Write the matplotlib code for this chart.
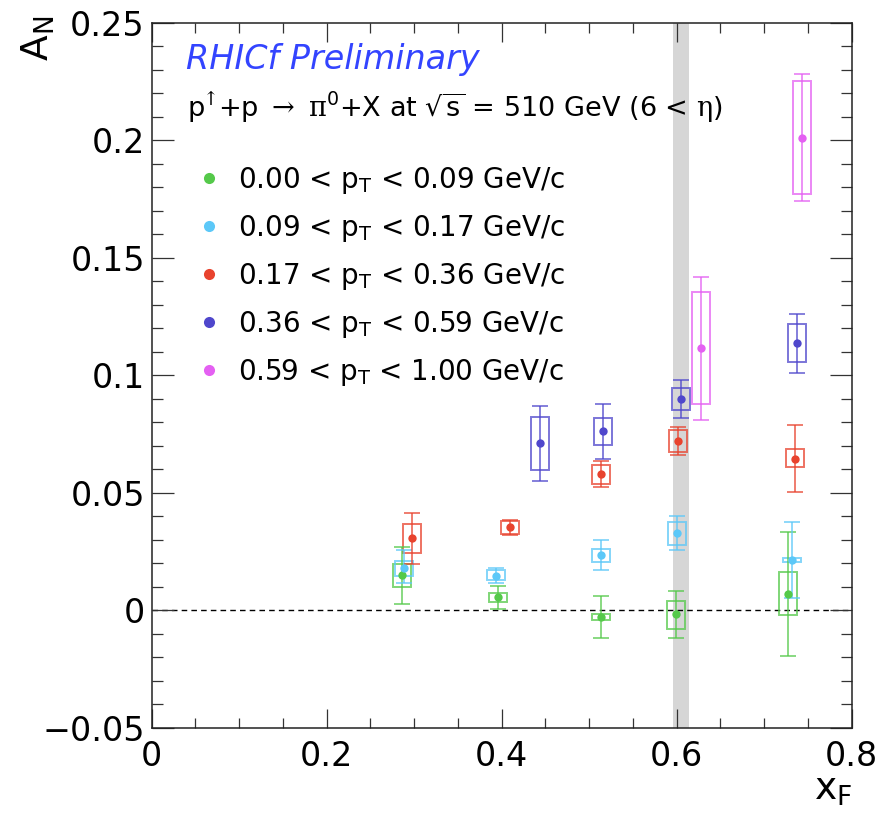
import matplotlib
matplotlib.use('Agg')
import matplotlib.pyplot as plt
from matplotlib.patches import Rectangle
from matplotlib.lines import Line2D
from matplotlib.ticker import FixedLocator, FixedFormatter, MultipleLocator

plt.rcParams['font.family'] = ['DejaVu Sans']
plt.rcParams['mathtext.fontset'] = 'dejavusans'

# ---------------- data ----------------
bin_labels = [
    r'0.00 < p$_{\mathrm{T}}$ < 0.09 GeV/c',
    r'0.09 < p$_{\mathrm{T}}$ < 0.17 GeV/c',
    r'0.17 < p$_{\mathrm{T}}$ < 0.36 GeV/c',
    r'0.36 < p$_{\mathrm{T}}$ < 0.59 GeV/c',
    r'0.59 < p$_{\mathrm{T}}$ < 1.00 GeV/c',
]
bin_colors = ['#55c94a', '#5cc8f8', '#e8432e', '#4f47cc', '#e460f2']

# bin 1: 0.00 < pT < 0.09
xf_b1 = [0.286, 0.396, 0.513, 0.599, 0.727]
an_b1 = [0.0149, 0.0055, -0.0028, -0.0018, 0.0069]
stat_lo_b1 = [0.0026, 0.0004, -0.0118, -0.0118, -0.0194]
stat_hi_b1 = [0.0269, 0.0105, 0.0060, 0.0082, 0.0333]
sys_lo_b1 = [0.0099, 0.0034, -0.0040, -0.0078, -0.0021]
sys_hi_b1 = [0.0196, 0.0074, -0.0018, 0.0040, 0.0161]

# bin 2: 0.09 < pT < 0.17
xf_b2 = [0.288, 0.393, 0.513, 0.600, 0.732]
an_b2 = [0.0180, 0.0147, 0.0237, 0.0327, 0.0214]
stat_lo_b2 = [0.0116, 0.0116, 0.0171, 0.0258, 0.0051]
stat_hi_b2 = [0.0255, 0.0181, 0.0298, 0.0400, 0.0374]
sys_lo_b2 = [0.0145, 0.0128, 0.0207, 0.0279, 0.0203]
sys_hi_b2 = [0.0210, 0.0169, 0.0262, 0.0376, 0.0224]

# bin 3: 0.17 < pT < 0.36
xf_b3 = [0.298, 0.410, 0.513, 0.602, 0.735]
an_b3 = [0.0307, 0.0354, 0.0580, 0.0718, 0.0645]
stat_lo_b3 = [0.0198, 0.0320, 0.0526, 0.0659, 0.0505]
stat_hi_b3 = [0.0415, 0.0383, 0.0635, 0.0779, 0.0786]
sys_lo_b3 = [0.0245, 0.0325, 0.0537, 0.0672, 0.0608]
sys_hi_b3 = [0.0366, 0.0380, 0.0620, 0.0768, 0.0684]

# bin 4: 0.36 < pT < 0.59
xf_b4 = [0.444, 0.516, 0.605, 0.737]
an_b4 = [0.0711, 0.0761, 0.0900, 0.1136]
stat_lo_b4 = [0.0550, 0.0642, 0.0820, 0.1010]
stat_hi_b4 = [0.0871, 0.0877, 0.0978, 0.1262]
sys_lo_b4 = [0.0598, 0.0703, 0.0851, 0.1055]
sys_hi_b4 = [0.0822, 0.0819, 0.0947, 0.1216]

# bin 5: 0.59 < pT < 1.00
xf_b5 = [0.628, 0.743]
an_b5 = [0.1114, 0.2009]
stat_lo_b5 = [0.0810, 0.1740]
stat_hi_b5 = [0.1417, 0.2281]
sys_lo_b5 = [0.0876, 0.1771]
sys_hi_b5 = [0.1353, 0.2250]

# shaded xF region
band_xf = [0.596, 0.614]

x_ticks = [0.0, 0.2, 0.4, 0.6, 0.8]
x_tick_labels = ['0', '0.2', '0.4', '0.6', '0.8']
y_ticks = [-0.05, 0.0, 0.05, 0.1, 0.15, 0.2, 0.25]
y_tick_labels = ['\u22120.05', '0', '0.05', '0.1', '0.15', '0.2', '0.25']

series = [
    (xf_b1, an_b1, stat_lo_b1, stat_hi_b1, sys_lo_b1, sys_hi_b1),
    (xf_b2, an_b2, stat_lo_b2, stat_hi_b2, sys_lo_b2, sys_hi_b2),
    (xf_b3, an_b3, stat_lo_b3, stat_hi_b3, sys_lo_b3, sys_hi_b3),
    (xf_b4, an_b4, stat_lo_b4, stat_hi_b4, sys_lo_b4, sys_hi_b4),
    (xf_b5, an_b5, stat_lo_b5, stat_hi_b5, sys_lo_b5, sys_hi_b5),
]

# ---------------- figure ----------------
W, H = 880, 813
fig = plt.figure(figsize=(W / 100, H / 100), dpi=100)
ax_l, ax_r, ax_t, ax_b = 151.7, 851.7, 22.7, 727.7
ax = fig.add_axes([ax_l / W, 1 - ax_b / H, (ax_r - ax_l) / W, (ax_b - ax_t) / H])
ax.set_xlim(0, 0.8)
ax.set_ylim(-0.05, 0.25)

ax.axvspan(band_xf[0], band_xf[1], color='#d6d6d6', lw=0, zorder=0)
ax.axhline(0, color='black', ls=(0, (4, 3)), lw=1.0, zorder=1)

box_half = 0.0103
for (xs, ys, slo, shi, blo, bhi), col in zip(series, bin_colors):
    for xv, lo, hi in zip(xs, blo, bhi):
        ax.add_patch(Rectangle((xv - box_half, lo), 2 * box_half, hi - lo,
                               fill=False, ec=col, lw=1.4, alpha=0.75, zorder=2))
    yerr = [[y - l for y, l in zip(ys, slo)], [h - y for y, h in zip(ys, shi)]]
    ax.errorbar(xs, ys, yerr=yerr, fmt='none', ecolor=col, elinewidth=1.3,
                capsize=6, capthick=1.3, alpha=0.75, zorder=3)
    ax.plot(xs, ys, 'o', color=col, ms=6, mew=0, zorder=4)

# ticks
ax.xaxis.set_major_locator(FixedLocator(x_ticks))
ax.xaxis.set_major_formatter(FixedFormatter(x_tick_labels))
ax.xaxis.set_minor_locator(MultipleLocator(0.05))
ax.yaxis.set_major_locator(FixedLocator(y_ticks))
ax.yaxis.set_major_formatter(FixedFormatter(y_tick_labels))
ax.yaxis.set_minor_locator(MultipleLocator(0.01))
ax.tick_params(which='both', direction='in', top=True, right=True,
               width=0.9, color='#333333', labelsize=24)
ax.tick_params(axis='x', which='major', length=14, pad=9)
ax.tick_params(axis='x', which='minor', length=7)
ax.tick_params(axis='y', which='major', length=16, pad=5)
ax.tick_params(axis='y', which='minor', length=8)
for s in ax.spines.values():
    s.set_linewidth(1.1)
    s.set_color('#222222')

# axis titles
fig.text(38 / W, 1 - 16 / H, r'A$_{\mathrm{N}}$', rotation=90, ha='center', va='top', fontsize=27)
fig.text(852 / W, 1 - 800 / H, r'x$_{\mathrm{F}}$', ha='right', va='baseline', fontsize=27)

# header texts
def ax_xy(px, py):
    return (px - ax_l) / (ax_r - ax_l), (ax_b - py) / (ax_b - ax_t)

ax.text(*ax_xy(186, 69), 'RHICf Preliminary', transform=ax.transAxes,
        color='#3344ff', fontsize=24, style='italic', ha='left', va='baseline')
ax.text(*ax_xy(187, 117),
        r'$\mathsf{p}^{\!\!\uparrow}\!$+p $\rightarrow$ $\mathrm{\pi}^{\mathsf{0}}$+X at $\sqrt{\mathsf{s}}$ = 510 GeV (6 < $\mathrm{\eta}$)',
        transform=ax.transAxes, fontsize=19.5, ha='left', va='baseline',
        math_fontfamily='dejavuserif')

# legend (manual)
for i, (lab, col) in enumerate(zip(bin_labels, bin_colors)):
    yc = 178 + 48 * i
    ax.add_line(Line2D([ax_xy(209, yc)[0]], [ax_xy(209, yc)[1]], marker='o', color=col,
                       ms=8, mew=0, transform=ax.transAxes, clip_on=False))
    ax.text(*ax_xy(238, yc + 10), lab, transform=ax.transAxes, fontsize=20,
            ha='left', va='baseline')

fig.savefig('out.png', dpi=100)
